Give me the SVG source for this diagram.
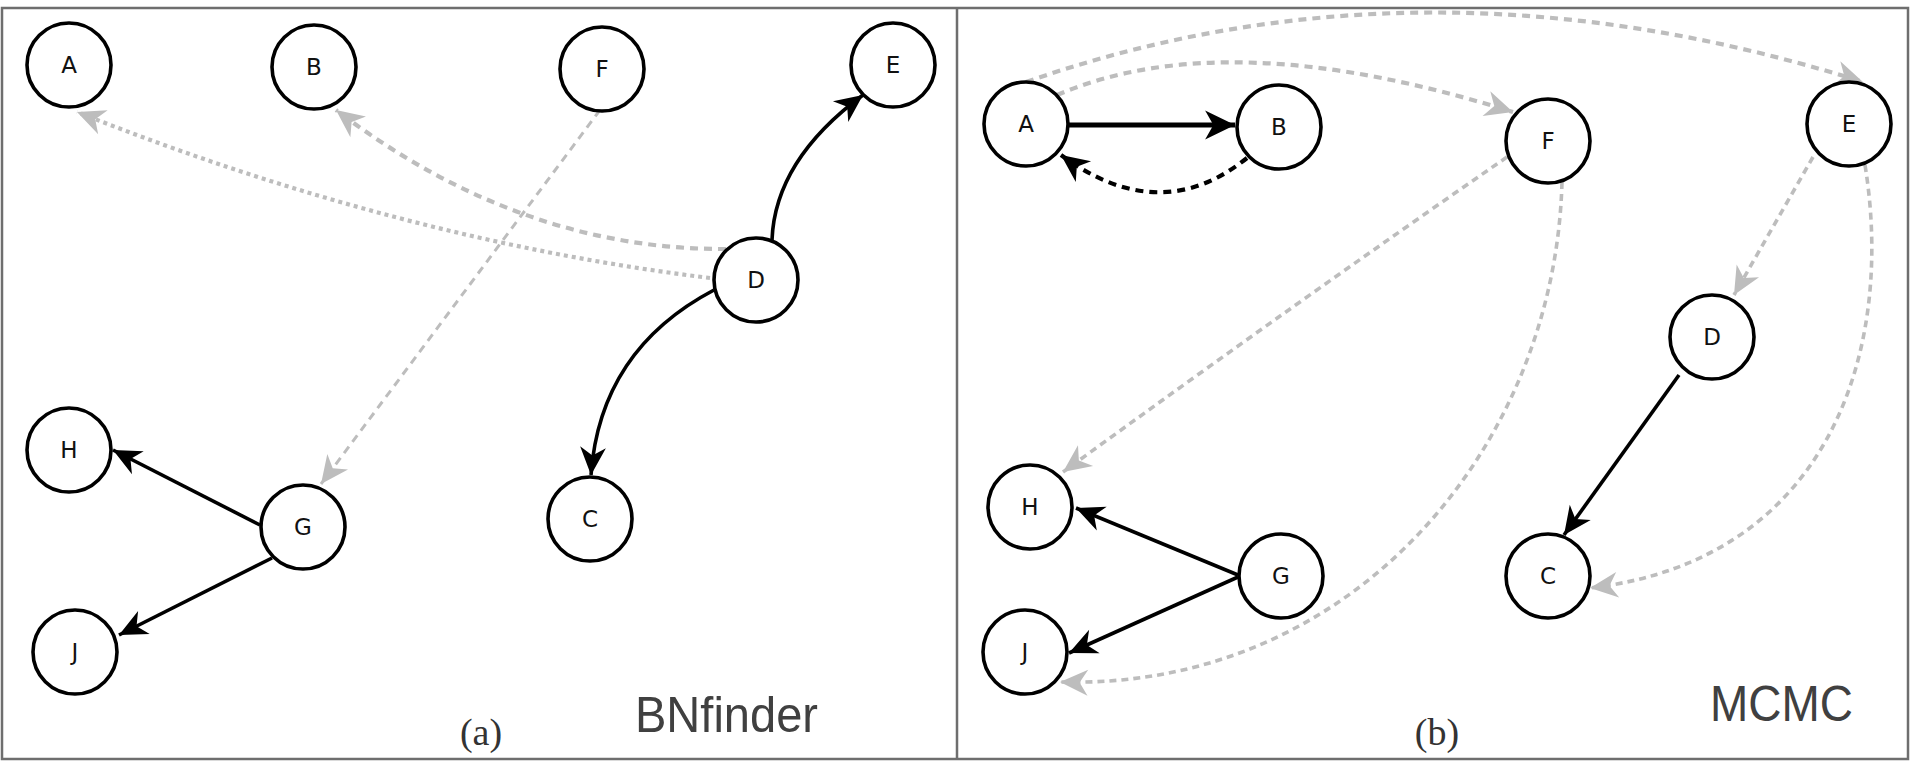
<svg xmlns="http://www.w3.org/2000/svg" width="1911" height="763" viewBox="0 0 1911 763">
  <style>
    .node circle { fill: #ffffff; stroke: #000000; stroke-width: 3.6; }
    .node text { font-family: "DejaVu Sans", sans-serif; font-size: 23px; fill: #111111; text-anchor: middle; }
    .edge { fill: none; }
    .solid { stroke: #000000; stroke-width: 3.6; }
    .solid-thick { stroke: #000000; stroke-width: 4.8; }
    .dash-black { stroke: #000000; stroke-width: 4.2; stroke-dasharray: 8 6; }
    .dot-gray { stroke: #bdbdbd; stroke-width: 4.2; stroke-dasharray: 4 4; }
    .dash-gray { stroke: #bdbdbd; stroke-width: 4.2; stroke-dasharray: 8 6; }
    .thin-gray { stroke: #bdbdbd; stroke-width: 3; stroke-dasharray: 8 6; }
    .mid-gray { stroke: #bdbdbd; stroke-width: 3.6; stroke-dasharray: 7 5; }
    .method { font-family: "Liberation Sans", Arial, sans-serif; font-size: 50px; fill: #404040; }
    .caption { font-family: "Liberation Serif", "Times New Roman", serif; font-size: 38px; fill: #333333; text-anchor: middle; }
  </style>
  <defs>
    <marker id="arrow-black" markerUnits="userSpaceOnUse" markerWidth="32" markerHeight="32" viewBox="-29 -14 31 28" refX="0" refY="0" orient="auto">
      <path d="M0,0 L-27,-12.5 L-19,0 L-27,12.5 Z" fill="#000000"/>
    </marker>
    <marker id="arrow-black-big" markerUnits="userSpaceOnUse" markerWidth="34" markerHeight="34" viewBox="-31 -15 33 30" refX="0" refY="0" orient="auto">
      <path d="M0,0 L-29,-14 L-21,0 L-29,14 Z" fill="#000000"/>
    </marker>
    <marker id="arrow-gray" markerUnits="userSpaceOnUse" markerWidth="32" markerHeight="32" viewBox="-29 -14 31 28" refX="0" refY="0" orient="auto">
      <path d="M0,0 L-27,-12.5 L-19,0 L-27,12.5 Z" fill="#bdbdbd"/>
    </marker>
  </defs>

  <!-- frame and panel divider -->
  <rect x="2" y="8" width="1906" height="751" fill="#ffffff" stroke="#6e6e6e" stroke-width="2.5"/>
  <line x1="957" y1="8" x2="957" y2="759" stroke="#6e6e6e" stroke-width="2.5"/>

  <!-- connectors -->
  <g id="connectors">
    <!-- panel (a) -->
    <path class="edge dot-gray" d="M710,278 Q400,240 77,112" marker-end="url(#arrow-gray)"/>
    <path class="edge dash-gray" d="M726,249 Q520,250 336,110" marker-end="url(#arrow-gray)"/>
    <path class="edge thin-gray" d="M600,110 L321,484" marker-end="url(#arrow-gray)"/>
    <path class="edge solid" d="M772,240 Q775,160 863,95" marker-end="url(#arrow-black)"/>
    <path class="edge solid" d="M714,290 Q600,350 591,475" marker-end="url(#arrow-black)"/>
    <path class="edge solid" d="M260,525 L113,450" marker-end="url(#arrow-black)"/>
    <path class="edge solid" d="M272,558 L119,635" marker-end="url(#arrow-black)"/>

    <!-- panel (b) -->
    <path class="edge solid-thick" d="M1069,125 L1235,125" marker-end="url(#arrow-black-big)"/>
    <path class="edge dash-black" d="M1247,158 Q1160,228 1061,155" marker-end="url(#arrow-black)"/>
    <path class="edge dash-gray" d="M1057,95 Q1227,22 1513,112" marker-end="url(#arrow-gray)"/>
    <path class="edge dash-gray" d="M1026,82 Q1424,-57 1863,82" marker-end="url(#arrow-gray)"/>
    <path class="edge mid-gray" d="M1507,157 Q1300,300 1063,472" marker-end="url(#arrow-gray)"/>
    <path class="edge mid-gray" d="M1562,182 C1555,450 1350,690 1060,682" marker-end="url(#arrow-gray)"/>
    <path class="edge mid-gray" d="M1813,157 L1734,295" marker-end="url(#arrow-gray)"/>
    <path class="edge mid-gray" d="M1865,165 C1895,350 1830,560 1590,588" marker-end="url(#arrow-gray)"/>
    <path class="edge solid" d="M1679,375 L1564,535" marker-end="url(#arrow-black)"/>
    <path class="edge solid" d="M1238,575 L1076,508" marker-end="url(#arrow-black)"/>
    <path class="edge solid" d="M1238,577 L1069,653" marker-end="url(#arrow-black)"/>
  </g>

  <!-- panel (a) nodes -->
  <g id="a-A" class="node"><circle cx="69" cy="65" r="42"/><text x="69" y="73">A</text></g>
  <g id="a-B" class="node"><circle cx="314" cy="67" r="42"/><text x="314" y="75">B</text></g>
  <g id="a-F" class="node"><circle cx="602" cy="69" r="42"/><text x="602" y="77">F</text></g>
  <g id="a-E" class="node"><circle cx="893" cy="65" r="42"/><text x="893" y="73">E</text></g>
  <g id="a-D" class="node"><circle cx="756" cy="280" r="42"/><text x="756" y="288">D</text></g>
  <g id="a-H" class="node"><circle cx="69" cy="450" r="42"/><text x="69" y="458">H</text></g>
  <g id="a-G" class="node"><circle cx="303" cy="527" r="42"/><text x="303" y="535">G</text></g>
  <g id="a-C" class="node"><circle cx="590" cy="519" r="42"/><text x="590" y="527">C</text></g>
  <g id="a-J" class="node"><circle cx="75" cy="652" r="42"/><text x="75" y="660">J</text></g>

  <!-- panel (b) nodes -->
  <g id="b-A" class="node"><circle cx="1026" cy="124" r="42"/><text x="1026" y="132">A</text></g>
  <g id="b-B" class="node"><circle cx="1279" cy="127" r="42"/><text x="1279" y="135">B</text></g>
  <g id="b-F" class="node"><circle cx="1548" cy="141" r="42"/><text x="1548" y="149">F</text></g>
  <g id="b-E" class="node"><circle cx="1849" cy="124" r="42"/><text x="1849" y="132">E</text></g>
  <g id="b-D" class="node"><circle cx="1712" cy="337" r="42"/><text x="1712" y="345">D</text></g>
  <g id="b-H" class="node"><circle cx="1030" cy="507" r="42"/><text x="1030" y="515">H</text></g>
  <g id="b-G" class="node"><circle cx="1281" cy="576" r="42"/><text x="1281" y="584">G</text></g>
  <g id="b-C" class="node"><circle cx="1548" cy="576" r="42"/><text x="1548" y="584">C</text></g>
  <g id="b-J" class="node"><circle cx="1025" cy="652" r="42"/><text x="1025" y="660">J</text></g>

  <!-- panel labels -->
  <text class="method" x="635" y="732" textLength="183" lengthAdjust="spacingAndGlyphs">BNfinder</text>
  <text class="method" x="1710" y="721" textLength="143" lengthAdjust="spacingAndGlyphs">MCMC</text>
  <text class="caption" x="481" y="745">(a)</text>
  <text class="caption" x="1437" y="745">(b)</text>
</svg>
